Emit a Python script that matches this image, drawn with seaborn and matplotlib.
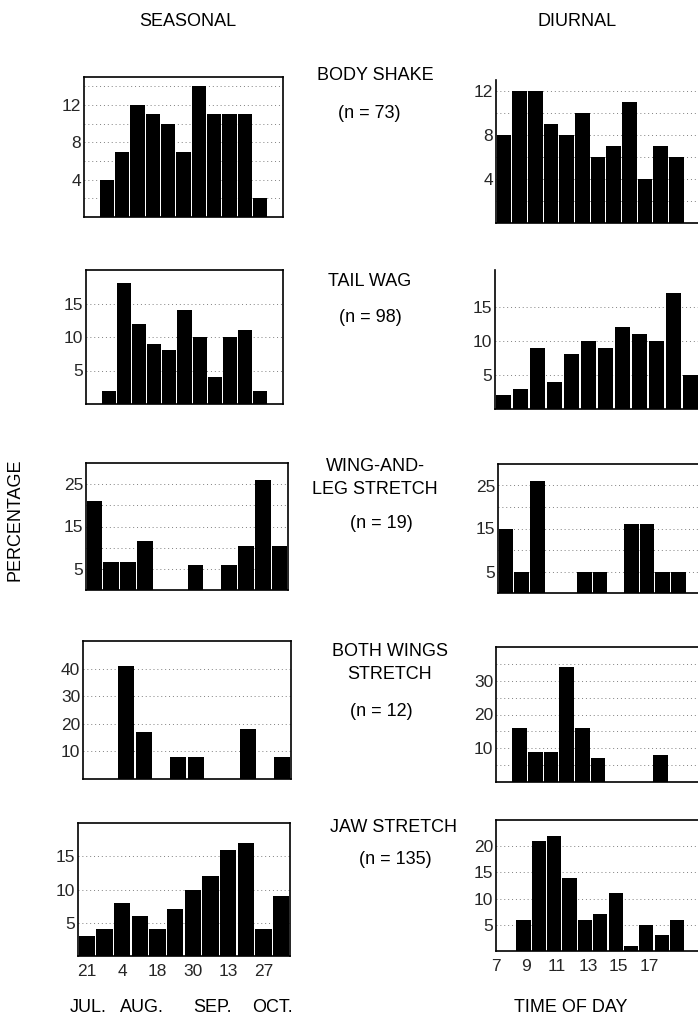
import matplotlib
matplotlib.use("Agg")
import matplotlib.pyplot as plt
import seaborn as sns
import pandas as pd

sns.set_theme(style="white")
plt.rcParams['font.family'] = ['Liberation Sans', 'DejaVu Sans']

# ---------------- data ----------------
behaviours = ["BODY SHAKE", "TAIL WAG", "WING-AND-\nLEG STRETCH", "BOTH WINGS\nSTRETCH", "JAW STRETCH"]
sample_sizes = ["(n = 73)", "(n = 98)", "(n = 19)", "(n = 12)", "(n = 135)"]

seasonal_body_shake = [0, 4, 7, 12, 11, 10, 7, 14, 11, 11, 11, 2, 0]
seasonal_tail_wag = [0, 2, 18, 12, 9, 8, 14, 10, 4, 10, 11, 2, 0]
seasonal_wing_leg = [21, 6.5, 6.5, 11.5, 0, 0, 6, 0, 6, 10.5, 26, 10.5]
seasonal_both_wings = [0, 0, 41, 17, 0, 8, 8, 0, 0, 18, 0, 8]
seasonal_jaw = [3, 4, 8, 6, 4, 7, 10, 12, 16, 17, 4, 9]

diurnal_body_shake = [8, 12, 12, 9, 8, 10, 6, 7, 11, 4, 7, 6, 0]
diurnal_tail_wag = [2, 3, 9, 4, 8, 10, 9, 12, 11, 10, 17, 5]
diurnal_wing_leg = [15, 5, 26, 0, 0, 5, 5, 0, 16, 16, 5, 5, 0]
diurnal_both_wings = [0, 16, 9, 9, 34, 16, 7, 0, 0, 0, 8, 0, 0]
diurnal_jaw = [0, 6, 21, 22, 14, 6, 7, 11, 1, 5, 3, 6, 0]

season_day_labels = ["21", "4", "18", "30", "13", "27"]
month_labels = ["JUL.", "AUG.", "SEP.", "OCT."]
hour_labels = ["7", "9", "11", "13", "15", "17"]

seasonal_ticks = [[4, 8, 12], [5, 10, 15], [5, 15, 25], [10, 20, 30, 40], [5, 10, 15]]
seasonal_grid = [[2, 4, 6, 8, 10, 12, 14], [5, 10, 15], [5, 10, 15, 20, 25], [10, 20, 30, 40], [5, 10, 15]]
seasonal_ylim = [15, 20, 30, 50, 20]

diurnal_ticks = [[4, 8, 12], [5, 10, 15], [5, 15, 25], [10, 20, 30], [5, 10, 15, 20]]
diurnal_grid = [[2, 4, 6, 8, 10, 12], [5, 10, 15], [5, 10, 15, 20, 25], [5, 10, 15, 20, 25, 30, 35], [5, 10, 15, 20]]
diurnal_ylim = [13, 20.4, 30, 40, 25]

seasonal = [seasonal_body_shake, seasonal_tail_wag, seasonal_wing_leg, seasonal_both_wings, seasonal_jaw]
diurnal = [diurnal_body_shake, diurnal_tail_wag, diurnal_wing_leg, diurnal_both_wings, diurnal_jaw]

# ---------------- layout (pixels) ----------------
W, H = 698, 1019
fig = plt.figure(figsize=(W / 100, H / 100), dpi=100)

def add_ax(x0, x1, y0, y1):
    return fig.add_axes([x0 / W, 1 - y1 / H, (x1 - x0) / W, (y1 - y0) / H])

left_boxes = [(84, 283, 77, 217), (86, 283, 270, 404), (86, 288, 463, 590), (83, 291, 641, 779), (78, 290, 823, 956)]
right_boxes = [(496, 700, 80, 223), (495, 699, 270, 409), (498, 702, 464, 593), (496, 700, 647, 782), (496, 700, 820, 951)]

FS = 12.5
LFS = 13

def draw_panel(ax, values, ylim, ticks, grid, show_top=True, show_right=True):
    df = pd.DataFrame({"slot": list(range(len(values))), "pct": values})
    sns.barplot(data=df, x="slot", y="pct", ax=ax, color="black", width=0.93,
                saturation=1, linewidth=0, errorbar=None)
    ax.set_xlim(-0.5, len(values) - 0.5)
    ax.set_ylim(0, ylim)
    for g in grid:
        ax.axhline(g, color="black", lw=0.7, ls=(0, (1, 3)), alpha=0.5, zorder=0)
    ax.set_yticks(ticks)
    ax.set_yticklabels([str(t) for t in ticks], fontsize=FS)
    ax.set_xticks([])
    ax.set_xlabel("")
    ax.set_ylabel("")
    ax.tick_params(axis="y", length=0, pad=2)
    for s in ["left", "bottom", "top", "right"]:
        ax.spines[s].set_color("black")
        ax.spines[s].set_linewidth(1.2)
    ax.spines["top"].set_visible(show_top)
    ax.spines["right"].set_visible(show_right)
    ax.set_facecolor("white")

left_axes = []
for i, box in enumerate(left_boxes):
    ax = add_ax(*box)
    draw_panel(ax, seasonal[i], seasonal_ylim[i], seasonal_ticks[i], seasonal_grid[i])
    left_axes.append(ax)

right_axes = []
for i, box in enumerate(right_boxes):
    ax = add_ax(*box)
    draw_panel(ax, diurnal[i], diurnal_ylim[i], diurnal_ticks[i], diurnal_grid[i],
               show_top=(i >= 2), show_right=False)
    right_axes.append(ax)

# bottom x tick labels
axj = left_axes[-1]
axj.set_xticks([0, 2, 4, 6, 8, 10])
axj.set_xticklabels(season_day_labels, fontsize=FS)
axj.tick_params(axis="x", length=0, pad=6)

axd = right_axes[-1]
axd.set_xticks([-0.8, 1.15, 3.15, 5.2, 7.2, 9.2])
axd.set_xticklabels(hour_labels, fontsize=FS)
axd.tick_params(axis="x", length=0, pad=6)

def ftext(x, y, s, fs=LFS, **kw):
    fig.text(x / W, 1 - y / H, s, fontsize=fs, color="black", **kw)

# headers
ftext(188, 22, "SEASONAL", ha="center", va="center")
ftext(577, 22, "DIURNAL", ha="center", va="center")
ftext(15, 520, "PERCENTAGE", ha="center", va="center", rotation=90)

# month labels and time of day
for x, s in zip([88, 142, 212, 272], month_labels):
    ftext(x, 1008, s, ha="center", va="center")
ftext(571, 1008, "TIME OF DAY", ha="center", va="center")

# behaviour labels
name_pos = [(375, 75), (370, 282), (375, 478), (390, 663), (393, 827)]
n_pos = [(369, 113), (370, 318), (381, 524), (381, 712), (395, 860)]
for (x, y), s in zip(name_pos, behaviours):
    ftext(x, y, s, ha="center", va="center", linespacing=1.5)
for (x, y), s in zip(n_pos, sample_sizes):
    ftext(x, y, s, ha="center", va="center")

fig.savefig("out.png", dpi=100, facecolor="white")
